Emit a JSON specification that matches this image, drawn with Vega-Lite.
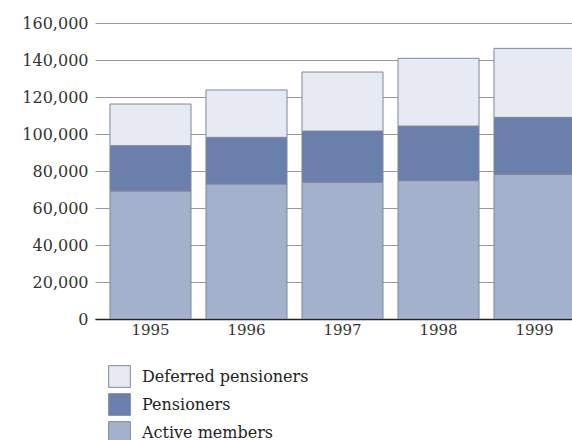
{
  "$schema": "https://vega.github.io/schema/vega-lite/v6.json",
  "autosize": "none",
  "width": 477,
  "height": 296,
  "padding": {"left": 95, "top": 23, "right": 0, "bottom": 121},
  "background": "white",
  "data": {"values": [
    {"year": "1995", "category": "Active members", "level": 1, "members": 69200},
    {"year": "1995", "category": "Pensioners", "level": 2, "members": 24500},
    {"year": "1995", "category": "Deferred pensioners", "level": 3, "members": 22500},
    {"year": "1996", "category": "Active members", "level": 1, "members": 73000},
    {"year": "1996", "category": "Pensioners", "level": 2, "members": 25200},
    {"year": "1996", "category": "Deferred pensioners", "level": 3, "members": 25600},
    {"year": "1997", "category": "Active members", "level": 1, "members": 73900},
    {"year": "1997", "category": "Pensioners", "level": 2, "members": 27700},
    {"year": "1997", "category": "Deferred pensioners", "level": 3, "members": 31900},
    {"year": "1998", "category": "Active members", "level": 1, "members": 74800},
    {"year": "1998", "category": "Pensioners", "level": 2, "members": 29500},
    {"year": "1998", "category": "Deferred pensioners", "level": 3, "members": 36600},
    {"year": "1999", "category": "Active members", "level": 1, "members": 78200},
    {"year": "1999", "category": "Pensioners", "level": 2, "members": 30800},
    {"year": "1999", "category": "Deferred pensioners", "level": 3, "members": 37300}
  ]},
  "mark": {"type": "bar", "clip": true, "stroke": "#7d879c", "strokeWidth": 1},
  "encoding": {
    "x": {
      "field": "year", "type": "nominal", "title": null,
      "scale": {"range": [0, 495], "paddingInner": 0.156, "paddingOuter": 0.156},
      "axis": {"labelAngle": 0, "tickSize": 0, "labelPadding": 3, "domainColor": "#222", "domainWidth": 1.5,
               "labelFont": "DejaVu Serif", "labelFontSize": 15, "labelColor": "#333"}
    },
    "y": {
      "field": "members", "type": "quantitative", "title": null, "stack": "zero",
      "scale": {"domain": [0, 160000]},
      "axis": {"values": [0, 20000, 40000, 60000, 80000, 100000, 120000, 140000, 160000], "format": ",d",
               "domain": false, "tickSize": 0, "labelPadding": 7, "gridColor": "#999999", "gridWidth": 1, "gridOpacity": 1,
               "labelFont": "DejaVu Serif", "labelFontSize": 16, "labelColor": "#333"}
    },
    "order": {"field": "level", "type": "quantitative", "sort": "ascending"},
    "color": {
      "field": "category", "type": "nominal", "title": null,
      "sort": ["Deferred pensioners", "Pensioners", "Active members"],
      "scale": {"range": ["#e8eaf3", "#6a7fab", "#a4b1cd"]},
      "legend": {"orient": "none", "legendX": 13, "legendY": 342, "padding": 0,
                 "symbolType": "square", "symbolSize": 470, "symbolStrokeColor": "#7d879c", "symbolStrokeWidth": 1,
                 "rowPadding": 1, "labelOffset": 11, "labelLimit": 300, "labelFont": "DejaVu Serif", "labelFontSize": 16, "labelColor": "#222"}
    }
  },
  "config": {"view": {"stroke": null}}
}
